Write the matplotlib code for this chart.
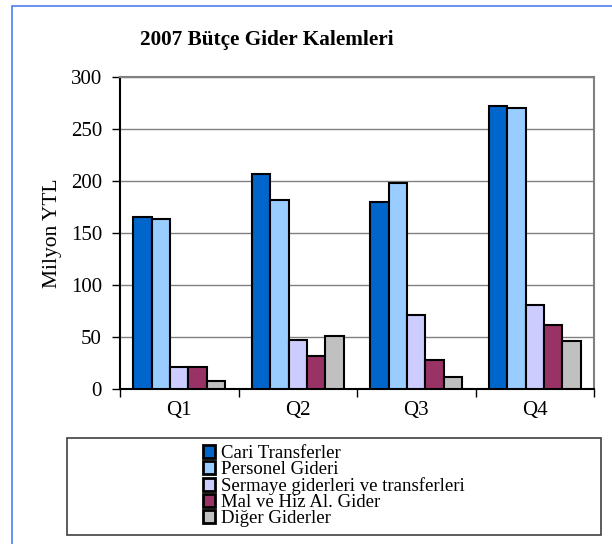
import matplotlib.pyplot as plt
import numpy as np
from matplotlib.patches import Rectangle, Patch

plt.rcParams['font.family'] = ['Liberation Serif', 'DejaVu Serif']

# Data (Milyon YTL)
quarters = ['Q1', 'Q2', 'Q3', 'Q4']
series_names = ['Cari Transferler', 'Personel Gideri',
                'Sermaye giderleri ve transferleri',
                'Mal ve Hiz Al. Gider', 'Diğer Giderler']
cari = [165, 207, 180, 272]
personel = [163, 182, 198, 270]
sermaye = [21, 47, 71, 81]
mal = [21, 32, 28, 62]
diger = [8, 51, 12, 46]
colors = ['#0066CC', '#99CCFF', '#CCCCFF', '#993366', '#C0C0C0']

fig = plt.figure(figsize=(6.12, 5.44), dpi=100)
ax = fig.add_axes([120 / 612, 1 - 389 / 544, 474 / 612, 312 / 544])

x = np.arange(len(quarters))
width = 0.155
values = [cari, personel, sermaye, mal, diger]
for i, (vals, c) in enumerate(zip(values, colors)):
    ax.bar(x + (i - 2) * width, vals, width, color=c, edgecolor='black',
           linewidth=1.5, zorder=3)

ax.set_xlim(-0.5, 3.5)
ax.set_ylim(0, 300)
ax.set_yticks(range(0, 301, 50))
ax.grid(axis='y', color='#808080', linewidth=1, zorder=0)
ax.set_xticks(x, quarters)
ax.set_xticks(np.arange(-0.5, 4, 1), minor=True)
ax.tick_params(axis='x', which='major', length=0, pad=9, labelsize=15)
ax.tick_params(axis='x', which='minor', length=6, width=1, color='black')
ax.tick_params(axis='y', length=6, width=1, pad=7, labelsize=15)
ax.set_ylabel('Milyon YTL', fontsize=15.5, labelpad=6)

for s in ['top', 'right']:
    ax.spines[s].set_color('#808080')
    ax.spines[s].set_linewidth(1.5)
for s in ['left', 'bottom']:
    ax.spines[s].set_color('black')
    ax.spines[s].set_linewidth(1.5)

fig.text(267 / 612, 1 - 40 / 544, '2007 Bütçe Gider Kalemleri',
         fontsize=15.3, fontweight='bold', ha='center', va='center')

# outer chart border (blue, left/top visible)
fig.patches.append(Rectangle((12 / 612, -0.05), 1.1, 1 - 6 / 544 + 0.05,
                             transform=fig.transFigure, fill=False,
                             edgecolor='#4A7EF0', linewidth=1.2))

# legend box
fig.patches.append(Rectangle((67 / 612, 1 - 535 / 544), 534 / 612, 97 / 544,
                             transform=fig.transFigure, fill=False,
                             edgecolor='#404040', linewidth=1.2))
handles = [Patch(facecolor=c, edgecolor='black', linewidth=2) for c in colors]
fig.legend(handles, series_names, loc='center',
           bbox_to_anchor=(334 / 612, 1 - 486 / 544), frameon=False,
           fontsize=13.5, labelspacing=-0.05, handlelength=0.65, handleheight=0.65,
           handletextpad=0.3, borderpad=0)

fig.savefig('out.png', dpi=100)
